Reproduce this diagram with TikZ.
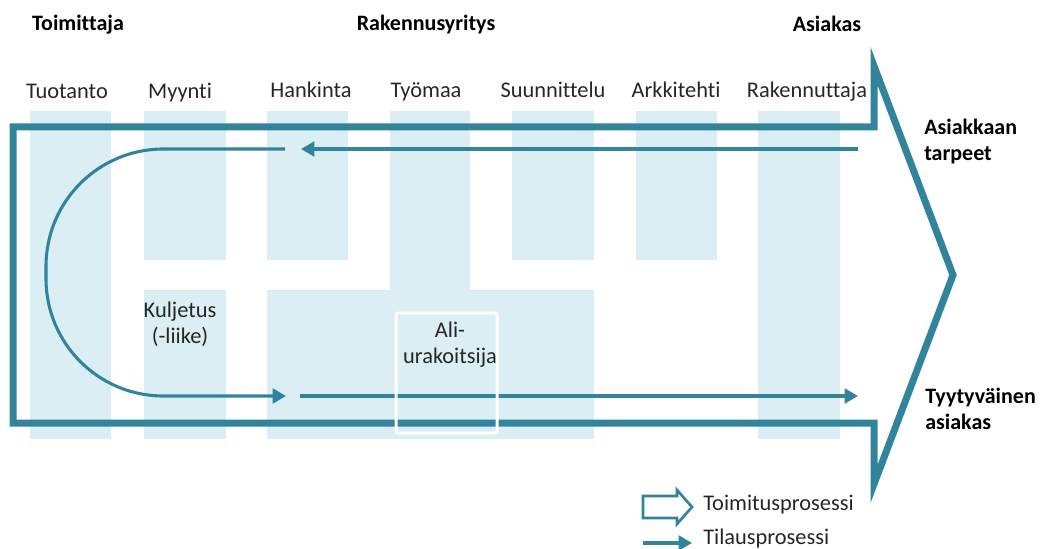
\documentclass[tikz,border=0pt]{standalone}
\usepackage{fontspec}
\setmainfont{Carlito}[Ligatures=NoCommon]
\usetikzlibrary{arrows.meta}

\definecolor{proc}{HTML}{31849B}
\definecolor{lane}{HTML}{DAEEF3}
\definecolor{ink}{HTML}{262626}

\tikzset{
  lanelbl/.style={font=\fontsize{16.8}{19.5}\selectfont, text=ink, anchor=base, inner sep=0pt},
  rolelbl/.style={font=\bfseries\fontsize{16.5}{19.5}\selectfont, text=black, anchor=base, inner sep=0pt},
  lanebox/.style={fill=lane, draw=none},
  delivery/.style={draw=proc, line width=5.25pt, line join=miter, miter limit=10},
  order/.style={draw=proc, line width=2.3pt, -{Triangle[length=10pt, width=11pt]}},
}

\begin{document}
\begin{tikzpicture}[x=0.75pt, y=-0.75pt]
\useasboundingbox (0,0) rectangle (1041,549);

% organisational lanes
\fill[lanebox] (30,111) rectangle (111,439);   % Tuotanto
\fill[lanebox] (144,111) rectangle (226,260);  % Myynti
\fill[lanebox] (144,290) rectangle (226,439);  % Kuljetus
\fill[lanebox] (267,111) rectangle (348,260);  % Hankinta
\fill[lanebox] (390,111) rectangle (470,439);  % Tyomaa
\fill[lanebox] (512,111) rectangle (594,260);  % Suunnittelu
\fill[lanebox] (267,290) rectangle (594,439);  % lower block
\fill[lanebox] (636,111) rectangle (717,260);  % Arkkitehti
\fill[lanebox] (758,111) rectangle (840,439);  % Rakennuttaja

% delivery process: large outlined arrow
\path[delivery] (13,127) -- (874,127) -- (874,66) -- (953,275) -- (874,484)
  -- (874,423) -- (13,423) -- cycle;

% order process
\coordinate (needsStart) at (858,149);
\coordinate (needsEnd)   at (301,149);
\coordinate (loopStart)  at (285,149);
\coordinate (loopTop)    at (46,149);
\coordinate (loopBot)    at (46,396);
\coordinate (loopEnd)    at (286,396);
\coordinate (doneStart)  at (300,396);
\coordinate (doneEnd)    at (858,396);

\path[order] (needsStart) -- (needsEnd);
\path[order, rounded corners=88pt] (loopStart) -- (loopTop) -- (loopBot) -- (loopEnd);
\path[order] (doneStart) -- (doneEnd);

% subcontractor frame
\node[draw=white, line width=2.25pt, rounded corners=1.5pt, minimum width=75.75pt,
      minimum height=90pt, inner sep=0pt] (alibox) at (446.5,373) {};

% headings
\node[rolelbl] (toimittaja) at (78,31) {Toimittaja};
\node[rolelbl] (rakennus) at (426,31) {Rakennusyritys};
\node[rolelbl] (asiakas) at (827,32) {Asiakas};

% lane labels
\node[lanelbl] (tuotanto) at (67,99) {Tuotanto};
\node[lanelbl] (myynti) at (180,99) {Myynti};
\node[lanelbl] (hankinta) at (311,98) {Hankinta};
\node[lanelbl] (tyomaa) at (426,98) {Työmaa};
\node[lanelbl] (suunnittelu) at (553,98) {Suunnittelu};
\node[lanelbl] (arkkitehti) at (676,98) {Arkkitehti};
\node[lanelbl] (rakennuttaja) at (807,98) {Rakennuttaja};

% multi-line labels are placed by the baseline of their last line
\node[lanelbl, align=center] (kuljetus) at (180,343) {Kuljetus\\(-liike)};
\node[lanelbl, align=center] (ali) at (450,363) {Ali-\\urakoitsija};

% customer side
\node[rolelbl, anchor=base west, align=left] (tarpeet) at (924,161) {Asiakkaan\\tarpeet};
\node[rolelbl, anchor=base west, align=left] (tyytyvainen) at (925,429) {Tyytyväinen\\asiakas};

% legend
\path[draw=proc, line width=2pt, line join=miter] (643,496) -- (677,496) -- (677,490)
  -- (692,507) -- (677,524) -- (677,518) -- (643,518) -- cycle;
\node[lanelbl, anchor=base west] (legdel) at (703,510) {Toimitusprosessi};
\coordinate (legA) at (643,543);
\coordinate (legB) at (692,543);
\path[order] (legA) -- (legB);
\node[lanelbl, anchor=base west] (legord) at (703,544) {Tilausprosessi};
\end{tikzpicture}
\end{document}
